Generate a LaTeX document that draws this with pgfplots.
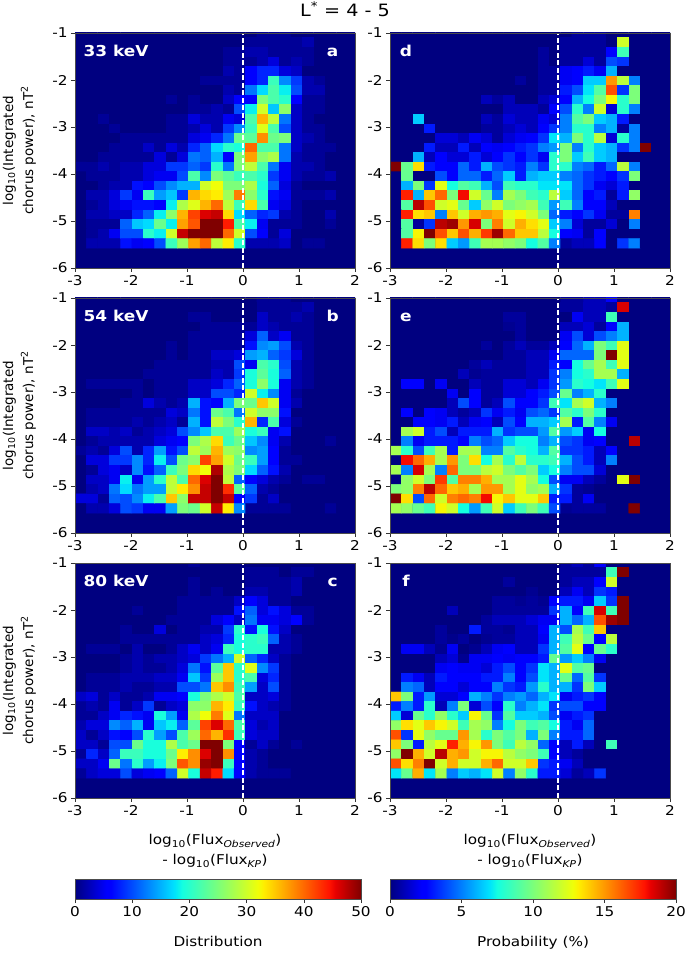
\documentclass[border=0pt]{standalone}
\usepackage{fontspec}
\setmainfont{DejaVu Sans}[FakeStretch=1.13]
\newfontfamily\vf{DejaVu Sans}
\usepackage{pgfplots}
\pgfplotsset{compat=1.18}
\pgfplotsset{colormap={myjet}{rgb(0)=(0,0,.5); rgb(110)=(0,0,1); rgb(125)=(0,.0,1); rgb(340)=(0,.86,1); rgb(350)=(0,.9,.98); rgb(375)=(.08,1,.88); rgb(640)=(.94,1,.03); rgb(660)=(1,.93,0); rgb(890)=(1,.07,0); rgb(910)=(.91,0,0); rgb(1000)=(.5,0,0)}}
\definecolor{navyjet}{rgb}{0,0,.5}
\newcount\rowc \newcount\colc
\newcommand\addcell[1]{\ifnum\colc<25
  \pgfmathsetmacro\cx{-3+0.203*(\the\colc+0.5)}%
  \pgfmathsetmacro\cy{-0.997-0.2035*\the\rowc}%
  \xdef\coords{\coords(\cx,\cy)[#1]}%
  \global\advance\colc by 1 \fi}
\newcommand\gridstart{\gdef\coords{}\global\rowc=0 }
\newcommand\R[2][0]{\global\colc=0
  \loop\ifnum\colc<#1 \addcell{0}\repeat
  \foreach \v in {#2}{\addcell{\v}}%
  \loop\ifnum\colc<25 \addcell{0}\repeat
  \global\advance\rowc by 1 }
% panel a: Distribution, 33 keV
\gridstart
\R[16]{1,1,1}
\R[15]{1,1,1,1,1,2}
\R[13]{1,1,2,2,1,1,1,1}
\R[13]{1,1,1,2,4,1,2,1}
\R[13]{2,1,6,8,8,4,3}
\R[11]{1,1,1,1,6,8,21,13,9,2,1}
\R[13]{2,1,12,17,22,18,10,2,2}
\R[8]{1,0,1,0,0,3,6,6,25,22,20,6,1,1}
\R[10]{1,1,2,1,10,18,30,16,26,3,1,1}
\R[2]{1,0,0,0,0,0,1,1,4,2,2,5,4,22,36,29,12,3,1}
\R[3]{1,0,0,0,0,1,1,2,4,2,9,13,21,31,22,10,3,1,1}
\R[4]{1,1,1,1,1,1,4,5,8,12,24,23,38,24,25,3,2,1}
\R[3]{1,1,1,3,1,4,2,8,11,17,20,19,40,22,22,12,3,1,1,1}
\R[2]{1,1,1,1,1,4,1,4,12,11,15,6,25,37,26,28,12,2,1,1}
\R{1,1,2,1,2,2,4,4,9,9,11,9,20,12,25,29,22,12,5,2,2,1}
\R[1]{1,1,1,2,2,4,5,5,10,22,13,25,23,21,22,20,9,5,2,1,1,2}
\R[2]{1,2,2,7,6,10,13,15,15,30,32,25,25,28,19,11,4,1}
\R[1]{2,2,4,9,5,21,14,16,9,36,34,33,27,39,26,20,7,5,1,1,1,2}
\R[1]{1,2,4,5,7,7,6,18,28,31,36,40,29,21,34,22,5,4,1}
\R[1]{2,2,3,3,8,11,18,26,36,42,46,47,34,17,11,8,9,2,1,0,0,2}
\R[1]{1,1,1,11,16,17,24,18,37,41,50,50,44,22,18,5,1,1,1,0,0,1}
\R[1]{1,2,5,10,10,20,18,30,47,50,50,50,40,30,10,6,1,4}
\R[1]{2,2,2,7,5,6,10,21,27,37,40,29,33,20,2,2,2,3,0,1,1}
\global\let\gridA\coords
% panel b: Distribution, 54 keV
\gridstart
\R[16]{1,1,1}
\R[16]{1,1,1,1,2}
\R[10]{1,1,0,0,0,0,3,1,1,2,1}
\R[11]{1,1,1,1,1,3,2,1,1,1}
\R[10]{1,1,1,1,1,4,11,3,5,1,1}
\R[8]{1,0,1,1,1,1,1,7,13,14,10,2,1}
\R[8]{1,0,1,1,3,3,4,14,15,11,9,4,1}
\R[7]{1,1,1,1,1,2,2,10,5,22,20,10,2,1}
\R[6]{1,1,1,1,1,1,3,2,9,19,23,19,11,2,1}
\R[1]{1,1,1,1,1,0,1,1,1,3,3,4,8,11,19,26,19,5,2,1}
\R[5]{1,0,1,1,1,3,3,10,10,8,30,18,13,5,1}
\R[4]{1,1,4,2,1,2,15,7,6,15,25,24,35,30,5,2}
\R[1]{1,1,1,1,1,1,1,4,3,12,7,24,22,12,30,26,26,7}
\R[1]{1,1,1,1,2,1,2,3,1,15,7,29,25,20,36,8,22,4,1}
\R[1]{3,3,2,3,1,2,3,4,10,13,16,22,22,27,19,21,5,7}
\R[1]{1,2,2,2,2,2,4,5,6,25,28,34,21,24,16,13,5,2,0,0,0,1}
\R{1,2,1,4,10,2,8,14,7,10,29,27,36,27,26,13,14,6,1}
\R[1]{4,4,9,9,13,8,18,10,24,26,42,37,30,24,21,14,6,1,1}
\R[1]{1,4,5,3,13,7,11,21,25,34,32,48,28,25,17,11,7,2}
\R[1]{3,3,5,18,5,14,20,29,22,40,46,50,29,11,6,4,2,1,0,1,1}
\R[1]{2,3,12,17,12,14,14,29,33,38,47,50,43,23,11,2,1}
\R{4,4,1,11,10,13,18,22,35,26,47,47,50,47,6,9,1,3}
\R[1]{2,2,4,10,9,5,5,14,25,24,30,47,33,13,1,1,1,1,0,0,0,1}
\global\let\gridB\coords
% panel c: Distribution, 80 keV
\gridstart
\R[10]{1}
\R[15]{1,1,1,0,1,1}
\R[10]{1,0,0,0,0,1,1,1,1,2}
\R[10]{1,0,1,0,0,2,2,1,1,2}
\R[9]{1,1,1,1,1,3,6,4,1,1}
\R[5]{1,0,0,0,1,1,1,1,1,7,11,4,7,4,1,1}
\R[8]{1,1,1,1,4,6,3,12,5,5,4,6,1}
\R[4]{1,0,0,4,0,1,1,2,2,9,20,7,19,7,3}
\R[4]{1,1,1,1,1,1,1,3,4,8,19,20,21,11,2,1}
\R[1]{1,1,1,0,2,0,0,1,3,5,3,5,21,19,20,20,2,2,1}
\R[4]{1,2,1,2,2,3,4,9,12,15,30,11,8,3,1}
\R[4]{1,2,1,1,2,4,12,7,23,35,20,31,13,9,1}
\R[1]{1,1,1,2,2,2,3,3,5,16,9,27,35,20,22,4,8,1}
\R[1]{1,1,1,2,1,1,2,2,10,10,12,35,38,21,14,3,10,1}
\R{3,4,1,3,1,1,2,5,5,6,19,25,28,30,22,3,3,4,1}
\R{1,2,1,5,1,3,9,1,3,4,26,26,36,33,21,7,3,2,1}
\R{1,1,3,5,8,7,5,19,14,5,28,32,39,31,12,3,3,3}
\R{2,4,4,13,11,15,5,16,18,11,23,42,46,40,22,4,2,3}
\R{3,1,3,7,6,10,20,14,10,22,27,40,36,43,21,4,3,3}
\R{3,3,1,10,10,24,19,19,28,22,24,50,50,25,6,1,3,1,0,1}
\R{1,8,3,11,21,21,19,19,24,33,38,46,50,38,6,2,1}
\R{3,3,5,24,12,20,14,18,25,41,38,49,50,21,6,2,1}
\R{1,3,4,4,10,4,5,6,11,30,19,47,44,17,6,2,1,1,1}
\global\let\gridC\coords
% panel d: Probability, 33 keV
\gridstart
\R[16]{.5,.5,.5}
\R[15]{.5,.5,.5,.5,0,12}
\R[13]{.5,0,.5,.5,.5,.5,2.4,8.5}
\R[13]{.5,0,.5,.5,1.5,.5,4,3.5}
\R[13]{.5,.5,2,2.5,3,2,6}
\R[11]{.5,0,.5,.5,2,2.5,6.5,6.5,15,11.5,5}
\R[13]{.5,.5,3,4,7,9,16.5,3.5,10}
\R[8]{1,.5,1,0,0,1,1.5,2.4,6,7.5,10,13,8,10}
\R[10]{1,1,1,.5,2.4,4,8,5,12,1.5,8,5}
\R[2]{6.5,0,0,0,0,0,1,.5,1.5,1,1,2,1.5,5,9,10,6.5,6,3}
\R[3]{3,0,0,0,0,.5,.5,1,1.5,1,2.5,3.5,5,8,8,5,6,.5,5}
\R[4]{1.5,1.5,1,2,1.5,.5,1.5,2,2.4,3.5,7,6,10,8,11.5,1.5,8,5}
\R[3]{3,1,1,3,1,2.4,2,2.4,3,3.5,5,5.5,10,5,8,6.5,6,3.5,5,20}
\R[2]{6,1,2.4,1.5,1.5,3,1.5,2.4,3.5,2.5,3.5,2,8,10,6.5,8.5,6.5,6}
\R{20,9.5,13.5,3,2.5,2.4,4.5,3,6,4,3.5,3,5,3.5,8,8,5,4.5,3,4.5,11.5,5}
\R[1]{9.5,0,0,4,2.4,4.5,4.5,3,4.5,6.5,3,6,6.5,6.5,5,4.5,3.5,3,2.4,3.5,10}
\R[1]{6,10,3.5,12.5,7.5,9,8.5,6,4,8.5,8,8,7,7,7,4.5,3.5,2,1.5,3}
\R[1]{17.5,6,14,16,10,18,12,9.5,5,11,10,8.5,8,11.5,6.5,4.5,2.5,3,.5,3,10.5}
\R[1]{9,19,16.5,12,12.5,9.5,6.5,10.5,12,10,10.5,11,8.5,5.5,8.5,5,2.5,2.4,1}
\R[1]{17.5,13.5,14,5,14,12,14.5,15,14.5,12.5,13,12,10,4.5,3,2.4,3.5,2,.5,.5,15.5}
\R[1]{9,.5,3.5,19,19.5,15,18.5,10,15.5,12,14.5,13.5,12.5,6.5,5,1.5,.5,.5,1.5,0,5}
\R[1]{9,13,20,16.5,14,16.5,14.5,17,19.5,16,14,14,11.5,7.5,2.5,2,.5,2.4}
\R[1]{17.5,13.5,10,13.5,6.5,5.5,8.5,11,11,10.5,10,7.5,9,5,.5,1,1,2.4,0,3.5,5}
\global\let\gridD\coords
% panel e: Probability, 54 keV
\gridstart
\R[15]{.5,.5,1,1,2.4}
\R[15]{.5,.5,1,1,.5,18.5}
\R[10]{.5,.5,0,0,0,0,2,1,1,8.5}
\R[10]{.3,.5,0,0,0,1,1,1.5,.5,2.4,6}
\R[11]{.5,0,0,0,2,4,1.5,4,5,6}
\R[8]{.5,0,.5,1,.5,.5,1,2.5,4.5,6,10,8.5,12.5}
\R[10]{.5,.5,1,1,2,4.5,4.5,4.5,10,20,12.5}
\R[7]{.5,1,.5,.5,.5,1,1,3,2.4,7.5,9.5,11,8.5,12.5}
\R[6]{1,.3,.5,.5,.5,.5,1,1,3.5,5,7.5,8,11,11,6}
\R[1]{2.5,2.5,0,2,0,0,1,.5,.5,1.5,1.5,1,2,3.5,5.5,8,7.5,7,8.5,12.5}
\R[5]{2,0,2.4,.5,.5,1.5,1.5,2.4,3,4,9.5,5,6,8}
\R[5]{1,4,2.4,.5,1,4,2.5,2.4,3.5,8.5,7,11,12,6,5}
\R[1]{2.4,0,2.4,2,1,.5,1,3.5,2,3,2,4,4.5,3.5,9,8,10,8}
\R[2]{2.4,2.4,2,3,1,2,2.4,1,4,2.5,6,6,6.5,11,3,9,5,2}
\R[1]{11,12,3,4,1,3,3,3,6,3.5,4,4,5.5,9,5.5,6.5,2,7.5}
\R[1]{5,2,3,3,3,2.4,5,4,4.5,6.5,7.5,7.5,5,6,4,3.5,2,2.4,0,0,19}
\R{11,8,4,8.5,11,3,11,11,5,5,9,8,7.5,6,9,3.5,3.5,3,1,2.4}
\R[1]{18,16,14.5,11,15,10,13.5,7.5,11,8,11.5,8,8,8.5,6,4,3,1,5}
\R{11,5,18.5,11,5,16,10,10,11.5,12,10,9,10,6.5,7.5,5,4,4,1.5}
\R[1]{10.5,12,10,17,9,15.5,15.5,14.5,11,11,12.5,11,7.5,4,2,2,1,.5,0,12.5,20}
\R{10,10.5,15.5,19,16,14,14.5,11,15,15,11,12.5,10.5,11,6,3.5,.5,.3}
\R{20,13.5,4,16,12,15.5,16,15.5,18,13,14,12.5,12.5,14,3,3,.5,2}
\R{11,10.5,9.5,8.5,13,12,7.5,5.5,8.5,12,6.5,8.5,10,8.5,4,.3,.5,.5,.5,0,0,20}
\global\let\gridE\coords
% panel f: Probability, 80 keV
\gridstart
\R[15]{.5,1,.5,2.4}
\R[15]{.5,.5,.5,.5,8.5,20}
\R[10]{.5,0,0,0,0,.5,1,1,2.4,12}
\R[12]{.3,0,0,1,2,1,3.5,3}
\R[9]{.5,.5,.3,.5,.3,2.4,3,3,2,6.5,3.5,20}
\R[5]{1,0,0,0,.5,.5,.5,.5,.5,3.5,6,2.4,8.5,18.5,8.5,20}
\R[8]{.5,1,1,1,1.5,2,2,6,4.5,6,16.5,19.5,20}
\R[4]{.5,0,0,3,.5,.5,.3,1,1,2.4,6,4,11,8.5,14}
\R[4]{.5,.2,.5,0,.3,.5,.5,1,1,2,6,8.5,11.5,9.5,2.4,11.5}
\R[1]{2,2,1,.3,2,0,.3,1,2,2.4,1,1,3.5,6,9,12.5,2.5,9.5,8}
\R[4]{1,1.5,.3,2,2,2.4,2,2.4,2.4,3,9.5,5.5,6.5,5,2}
\R[4]{2,2.4,2,2,1.5,3,4,2.4,3.5,7,6,12.5,9,9.5}
\R[1]{3,2,1,3,2.4,2.5,2.5,3,3,5,2.4,4,7,6,9.5,4.5,9,3.5}
\R[1]{5,4.5,1,2.4,2.4,1.5,2.5,2.4,5,3.5,3,5.5,8,6,6,3.5,10,6.5}
\R{14,10,3,5.5,1.5,1.5,2.5,6,5,3.5,5,5.5,4.5,6,7,2,3,3.5,2.4}
\R{3,5,3,8,1,5,10,1.5,4,2.5,8,5,6,7,3.5,4,4,2.4,2.4}
\R{6.5,1.5,9.5,8,10.5,8,6.5,13,9.5,3.5,9,6.5,6.5,6,4,2,3,3.5}
\R{10.5,13.5,12.5,14,13,12,8.5,11,10.5,5,7.5,10,8.5,9,7.5,3,2,4.5}
\R{16.5,3.5,12.5,10.5,9.5,9.5,15,11,8,10,9,10,6,10,5,3,3,4.5}
\R{14,10,3,11.5,12.5,17.5,14.5,13,15,10,8.5,11.5,10.5,4.5,2.4,1,3,1,0,8.5}
\R{10.5,20,14.5,12,19,14.5,15,12,13,13,11.5,10.5,10,8.5,2.5,1,.5}
\R{16.5,13.5,15.5,20,12,14.5,12,12,14.5,16,12,12,14,3.5,3,2,1}
\R{7,9.5,14.5,7,11,5,6.5,6,7,12,5,10.5,8,3,3,1.5,.5,1,3.5}
\global\let\gridF\coords
\newcommand\heat[1]{\edef\temp{\noexpand\addplot[matrix plot*, mesh/cols=25, point meta=explicit, forget plot] coordinates {#1};}\temp
  \addplot[white, line width=1.4pt, dash pattern=on 5pt off 2.5pt, forget plot] coordinates {(0,-6) (0,-1)};}
\pgfplotsset{
  panel/.style={scale only axis, width=280pt, height=235pt, xmin=-3, xmax=2, ymin=-6, ymax=-1,
    anchor=south west, axis on top, axis background/.style={fill=navyjet},
    colormap name=myjet, tick align=outside, xtick pos=bottom, ytick pos=left,
    major tick length=4pt, axis line style={black!70, line width=.4pt}, tick style={black!80},
    xtick={-3,-2,-1,0,1,2}, ytick={-6,-5,-4,-3,-2,-1},
    xticklabels={-3,-2,-1,0,1,2}, yticklabels={-6,-5,-4,-3,-2,-1},
    tick label style={font=\fontsize{13.5}{15}\selectfont},
    label style={font=\fontsize{13.5}{20}\selectfont, align=center}},
  dist/.style={point meta min=0, point meta max=50},
  prob/.style={point meta min=0, point meta max=20},
  ylab/.style={ylabel={log\textsubscript{10}(Integrated\\chorus power), nT\textsuperscript{2}}, ylabel style={yshift=9.5pt, font=\vf\fontsize{13.5}{20}\selectfont}},
  xlab/.style={xlabel={log\textsubscript{10}(Flux\textsubscript{\textit{Observed}})\\- log\textsubscript{10}(Flux\textsubscript{\textit{KP}})}, xlabel style={yshift=-12pt}},
  cbar/.style={colorbar horizontal, colorbar/width=20pt, colorbar style={at={(0,-0.345)}, anchor=north west, scale only axis, width=286pt, height=20pt,
    ymin=0, ymax=1, enlargelimits=false,
    xtick={#1}, xticklabels={#1}, tick align=outside, xtick pos=bottom, ytick=\empty, major tick length=4pt,
    axis line style={black!70}, tick label style={font=\fontsize{13.5}{15}\selectfont},
    xlabel style={yshift=-13pt, font=\fontsize{13.5}{15}\selectfont}}}
}
\tikzset{plab/.style={font=\fontsize{15}{17}\bfseries\selectfont, text=white, inner sep=0pt}}
\begin{document}
\begin{tikzpicture}[x=1pt,y=1pt]
\useasboundingbox (0,0) rectangle (685,953);
\node[font=\fontsize{17}{19}\selectfont] at (345,944) {L\textsuperscript{*} = 4 - 5};
\begin{axis}[panel, dist, ylab, at={(75pt,685pt)}]
\heat\gridA
\node[plab, anchor=base west] at (rel axis cs:0.03,0.9) {33 keV};
\node[plab, anchor=base] at (rel axis cs:0.92,0.9) {a};
\end{axis}
\begin{axis}[panel, dist, ylab, at={(75pt,420pt)}]
\heat\gridB
\node[plab, anchor=base west] at (rel axis cs:0.03,0.9) {54 keV};
\node[plab, anchor=base] at (rel axis cs:0.92,0.9) {b};
\end{axis}
\begin{axis}[panel, dist, ylab, xlab, at={(75pt,155pt)}, cbar={0,10,20,30,40,50}, colorbar style={xlabel={Distribution}}]
\heat\gridC
\node[plab, anchor=base west] at (rel axis cs:0.03,0.9) {80 keV};
\node[plab, anchor=base] at (rel axis cs:0.92,0.9) {c};
\end{axis}
\begin{axis}[panel, prob, at={(390pt,685pt)}]
\heat\gridD
\node[plab, anchor=base] at (rel axis cs:0.057,0.9) {d};
\end{axis}
\begin{axis}[panel, prob, at={(390pt,420pt)}]
\heat\gridE
\node[plab, anchor=base] at (rel axis cs:0.057,0.9) {e};
\end{axis}
\begin{axis}[panel, prob, xlab, at={(390pt,155pt)}, cbar={0,5,10,15,20}, colorbar style={xlabel={Probability (\%)}}]
\heat\gridF
\node[plab, anchor=base] at (rel axis cs:0.057,0.9) {f};
\end{axis}
\end{tikzpicture}
\end{document}
